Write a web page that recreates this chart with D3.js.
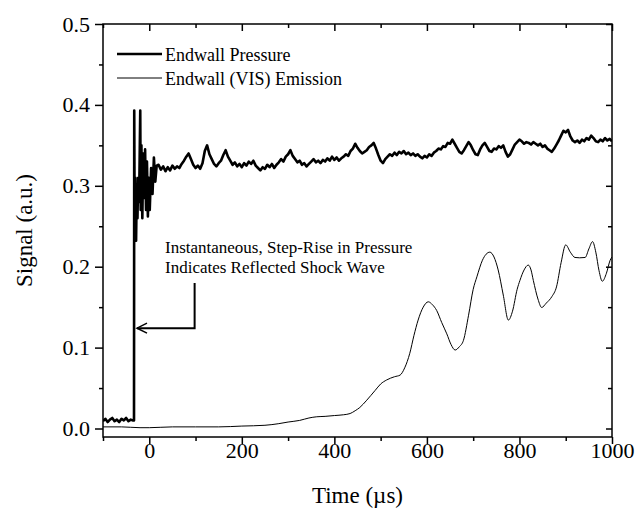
<!DOCTYPE html>
<html>
<head>
<meta charset="utf-8">
<script src="https://cdn.jsdelivr.net/npm/d3@7"></script>
<style>
  body { margin: 0; background: white; }
  text { font-family: "Liberation Serif", "Times New Roman", serif; fill: #000; }
</style>
</head>
<body>
<div id="chart"></div>
<script>
// ---- data ----
const xTicks = [0, 200, 400, 600, 800, 1000]
const yTicks = [0.0, 0.1, 0.2, 0.3, 0.4, 0.5]
const seriesNames = ['Endwall Pressure', 'Endwall (VIS) Emission']

// pressure before the shock, sampled every 5 us from -100
const pressurePreStart = -100
const pressurePre = [0.009, 0.012, 0.008, 0.011, 0.013, 0.009, 0.011, 0.008, 0.012, 0.010, 0.013, 0.009, 0.011, 0.010]

// step rise and ringing
const shockTimes = [-33, -32.5, -31.5, -30, -28.5, -27, -25.5, -24, -22, -19.5, -18.5, -17, -15, -13, -11, -9, -7, -5, -3, -1, 1, 4, 7, 10, 13, 16]
const shockValues = [0.010, 0.393, 0.24, 0.31, 0.232, 0.30, 0.26, 0.31, 0.28, 0.393, 0.27, 0.35, 0.26, 0.34, 0.285, 0.345, 0.27, 0.33, 0.262, 0.31, 0.27, 0.322, 0.29, 0.335, 0.305, 0.325]

// pressure after the ringing, sampled every 5 us from 20
const pressureMainStart = 20
const pressureMain = [
  0.326, 0.320, 0.324, 0.318, 0.323, 0.319, 0.325, 0.321, 0.324, 0.322,
  0.327, 0.331, 0.336, 0.340, 0.333, 0.326, 0.322, 0.325, 0.321, 0.328,
  0.343, 0.350, 0.339, 0.333, 0.327, 0.324, 0.328, 0.331, 0.338, 0.344,
  0.336, 0.331, 0.326, 0.329, 0.324, 0.327, 0.323, 0.328, 0.325, 0.330,
  0.327, 0.331, 0.325, 0.322, 0.319, 0.323, 0.321, 0.326, 0.323, 0.327,
  0.322, 0.326, 0.329, 0.333, 0.330, 0.336, 0.339, 0.344, 0.337, 0.333,
  0.329, 0.331, 0.326, 0.328, 0.324, 0.327, 0.330, 0.333, 0.329, 0.331,
  0.328, 0.332, 0.330, 0.334, 0.331, 0.336, 0.332, 0.335, 0.331, 0.334,
  0.336, 0.339, 0.337, 0.343, 0.346, 0.352, 0.347, 0.343, 0.340, 0.342,
  0.344, 0.348, 0.350, 0.353, 0.346, 0.338, 0.331, 0.328, 0.333, 0.336,
  0.339, 0.337, 0.341, 0.338, 0.342, 0.340, 0.343, 0.339, 0.341, 0.338,
  0.340, 0.337, 0.339, 0.336, 0.334, 0.337, 0.335, 0.339, 0.337, 0.341,
  0.343, 0.346, 0.345, 0.349, 0.348, 0.353, 0.352, 0.357, 0.352, 0.347,
  0.342, 0.340, 0.344, 0.349, 0.354, 0.350, 0.344, 0.339, 0.338, 0.345,
  0.350, 0.353, 0.348, 0.343, 0.342, 0.346, 0.345, 0.349, 0.347, 0.350,
  0.342, 0.336, 0.339, 0.345, 0.351, 0.354, 0.357, 0.355, 0.352, 0.354,
  0.353, 0.351, 0.354, 0.352, 0.350, 0.352, 0.348, 0.350, 0.346, 0.344,
  0.342, 0.346, 0.351, 0.356, 0.362, 0.368, 0.366, 0.369, 0.361, 0.356,
  0.354, 0.356, 0.353, 0.357, 0.355, 0.359, 0.357, 0.362, 0.359, 0.355,
  0.354, 0.357, 0.355, 0.359, 0.356, 0.358, 0.355
]
const sampleStep = 5

// emission trace (time, signal)
const emissionTimes = [-100, -60, -20, 0, 50, 100, 150, 200, 250, 280, 300, 325, 345, 362, 380, 400, 420, 434, 445, 455, 470, 488, 500, 513, 530, 542, 552, 563, 572, 581, 592, 603, 612, 621, 632, 643, 652, 661, 670, 679, 690, 700, 708, 720, 736, 745, 754, 765, 776, 785, 795, 801, 810, 819, 825, 830, 840, 848, 858, 870, 880, 890, 900, 910, 920, 930, 942, 950, 958, 965, 972, 979, 988, 996, 1000]
const emissionValues = [0.002, 0.002, 0.001, 0.001, 0.002, 0.002, 0.002, 0.003, 0.004, 0.006, 0.008, 0.010, 0.013, 0.0145, 0.015, 0.016, 0.017, 0.0185, 0.022, 0.026, 0.035, 0.047, 0.055, 0.060, 0.064, 0.066, 0.075, 0.093, 0.115, 0.134, 0.150, 0.1566, 0.153, 0.146, 0.131, 0.117, 0.104, 0.097, 0.101, 0.109, 0.140, 0.172, 0.1875, 0.208, 0.218, 0.212, 0.196, 0.165, 0.134, 0.145, 0.172, 0.183, 0.196, 0.202, 0.196, 0.183, 0.160, 0.1496, 0.155, 0.163, 0.175, 0.205, 0.227, 0.218, 0.2114, 0.211, 0.2114, 0.222, 0.231, 0.218, 0.195, 0.182, 0.192, 0.208, 0.212]

// ---- layout ----
const CONFIG = {
  width: 636,
  height: 508,
  margin: { top: 24, right: 24, bottom: 71, left: 103 }
}
const innerW = CONFIG.width - CONFIG.margin.left - CONFIG.margin.right
const innerH = CONFIG.height - CONFIG.margin.top - CONFIG.margin.bottom

const svg = d3.select('#chart')
  .append('svg')
  .attr('width', CONFIG.width)
  .attr('height', CONFIG.height)

const g = svg.append('g')
  .attr('transform', `translate(${CONFIG.margin.left}, ${CONFIG.margin.top})`)

const x = d3.scaleLinear().domain([-100, 1000]).range([0, innerW])
const y = d3.scaleLinear().domain([-0.0105, 0.5]).range([innerH, 0])

const xMinor = d3.range(-100, 1001, 100).filter(v => v % 200 !== 0)
const yMinor = [0.05, 0.15, 0.25, 0.35, 0.45]

g.append('clipPath').attr('id', 'plot-clip')
  .append('rect').attr('width', innerW).attr('height', innerH)

// ---- data lines ----
const pressure = []
pressurePre.forEach((v, i) => pressure.push([pressurePreStart + i * sampleStep, v]))
shockTimes.forEach((t, i) => pressure.push([t, shockValues[i]]))
pressureMain.forEach((v, i) => pressure.push([pressureMainStart + i * sampleStep, v]))

const emission = emissionTimes.map((t, i) => [t, emissionValues[i]])

const plot = g.append('g').attr('clip-path', 'url(#plot-clip)')

plot.append('path')
  .datum(emission)
  .attr('fill', 'none')
  .attr('stroke', '#000')
  .attr('stroke-width', 1)
  .attr('d', d3.line().x(d => x(d[0])).y(d => y(d[1])).curve(d3.curveMonotoneX))

plot.append('path')
  .datum(pressure)
  .attr('fill', 'none')
  .attr('stroke', '#000')
  .attr('stroke-width', 2.6)
  .attr('stroke-linejoin', 'round')
  .attr('d', d3.line().x(d => x(d[0])).y(d => y(d[1])))

// ---- axes ----
function styleAxis(sel) {
  sel.select('.domain').remove()
  sel.selectAll('line').attr('stroke', '#000').attr('stroke-width', 1.5)
  sel.selectAll('text').style('font-size', '22px').style('font-family', '"Liberation Serif", serif')
}

// bottom
g.append('g').attr('transform', `translate(0, ${innerH})`)
  .call(d3.axisBottom(x).tickValues(xTicks).tickSize(7).tickFormat(d3.format('d')))
  .call(styleAxis)
  .call(a => a.selectAll('text').attr('y', 5))
g.append('g').attr('transform', `translate(0, ${innerH})`)
  .call(d3.axisBottom(x).tickValues(xMinor).tickSize(4).tickFormat(''))
  .call(styleAxis)

// top (inward)
g.append('g')
  .call(d3.axisBottom(x).tickValues(xTicks).tickSize(7).tickFormat(''))
  .call(styleAxis)
g.append('g')
  .call(d3.axisBottom(x).tickValues(xMinor).tickSize(4).tickFormat(''))
  .call(styleAxis)

// left
g.append('g')
  .call(d3.axisLeft(y).tickValues(yTicks).tickSize(8).tickPadding(5).tickFormat(d3.format('.1f')))
  .call(styleAxis)
g.append('g')
  .call(d3.axisLeft(y).tickValues(yMinor).tickSize(4).tickFormat(''))
  .call(styleAxis)

// right (inward)
g.append('g').attr('transform', `translate(${innerW}, 0)`)
  .call(d3.axisLeft(y).tickValues(yTicks).tickSize(6).tickFormat(''))
  .call(styleAxis)
g.append('g').attr('transform', `translate(${innerW}, 0)`)
  .call(d3.axisLeft(y).tickValues(yMinor).tickSize(4).tickFormat(''))
  .call(styleAxis)

// frame
g.append('rect')
  .attr('width', innerW)
  .attr('height', innerH)
  .attr('fill', 'none')
  .attr('stroke', '#000')
  .attr('stroke-width', 1.5)

// axis titles
svg.append('text')
  .attr('x', CONFIG.margin.left + innerW / 2)
  .attr('y', 503)
  .attr('text-anchor', 'middle')
  .style('font-size', '23px')
  .text('Time (\u00b5s)')

svg.append('text')
  .attr('transform', `translate(32, ${CONFIG.margin.top + innerH / 2}) rotate(-90)`)
  .attr('text-anchor', 'middle')
  .style('font-size', '23px')
  .text('Signal (a.u.)')

// ---- legend ----
const legend = g.append('g').attr('transform', 'translate(14, 30)')
const legendWidths = [2.5, 1]
seriesNames.forEach((name, i) => {
  const row = legend.append('g').attr('transform', `translate(0, ${i * 24})`)
  row.append('line')
    .attr('x1', 0).attr('x2', 45)
    .attr('stroke', '#000')
    .attr('stroke-width', legendWidths[i])
  row.append('text')
    .attr('x', 48)
    .attr('y', 6.5)
    .style('font-size', '18px')
    .text(name)
})

// ---- annotation ----
const noteX = x(-33)
const noteY = y(0.124)
const bendX = x(98)
g.append('text')
  .attr('x', 62).attr('y', 229)
  .style('font-size', '17px')
  .text('Instantaneous, Step-Rise in Pressure')
g.append('text')
  .attr('x', 62).attr('y', 249)
  .style('font-size', '17px')
  .text('Indicates Reflected Shock Wave')

g.append('path')
  .attr('fill', 'none')
  .attr('stroke', '#000')
  .attr('stroke-width', 2)
  .attr('d', `M${bendX},${259} V${noteY} H${noteX + 3}`)
g.append('path')
  .attr('fill', 'none')
  .attr('stroke', '#000')
  .attr('stroke-width', 1.5)
  .attr('d', `M${noteX + 13},${noteY - 5} L${noteX + 3},${noteY} L${noteX + 13},${noteY + 5}`)
</script>
</body>
</html>
